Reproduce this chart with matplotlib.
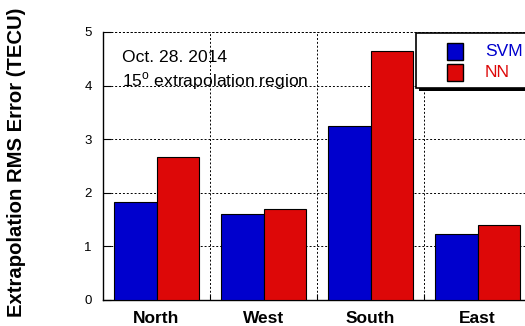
import matplotlib
matplotlib.use("Agg")
import matplotlib.pyplot as plt
from matplotlib.patches import Rectangle
import numpy as np

plt.rcParams['font.family'] = ['Liberation Sans', 'DejaVu Sans']
plt.rcParams['mathtext.fontset'] = 'custom'
plt.rcParams['mathtext.rm'] = 'Liberation Sans'

regions = ["North", "West", "South", "East"]
svm_rms = [1.83, 1.60, 3.25, 1.24]
nn_rms = [2.66, 1.69, 4.65, 1.40]
series_names = ["SVM", "NN"]
y_ticks = [0, 1, 2, 3, 4, 5]

blue = "#0000CD"
red = "#DD0808"

W, H = 525, 326
fig = plt.figure(figsize=(W / 100, H / 100), dpi=100)
ax = fig.add_axes([103 / W, 1 - 300 / H, 428 / W, 268 / H])


def fx(px):
    return px / W


def fy(py):
    return 1 - py / H


x = np.arange(len(regions))
bw = 0.4
ax.bar(x - bw / 2, svm_rms, bw, color=blue, edgecolor="black", linewidth=0.8, zorder=3)
ax.bar(x + bw / 2, nn_rms, bw, color=red, edgecolor="black", linewidth=0.8, zorder=3)

ax.set_xlim(-0.5, len(regions) - 0.5)
ax.set_ylim(0, 5)

# category separators as major ticks, labels on minor ticks
ax.set_xticks(x[:-1] + 0.5)
ax.set_xticklabels([])
ax.set_xticks(x, minor=True)
ax.set_xticklabels(regions, minor=True, fontsize=12.5, fontweight="bold")
ax.tick_params(axis="x", which="minor", length=0, pad=8)
ax.tick_params(axis="x", which="major", direction="in", length=4, width=0.8)

ax.set_yticks(y_ticks)
ax.set_yticklabels([str(t) for t in y_ticks], fontsize=9.5)
ax.tick_params(axis="y", direction="in", length=6, width=0.8, pad=8)
ax.tick_params(right=False, top=False)

ax.grid(True, which="major", color="black", linestyle=(0, (2, 2)), linewidth=0.7, zorder=0)
for s in ("top", "right"):
    ax.spines[s].set_visible(False)
for s in ("left", "bottom"):
    ax.spines[s].set_linewidth(1.0)
ax.axhline(5, color="black", linestyle=(0, (2, 2)), linewidth=0.7, clip_on=False)

ax.text(fx(122), fy(62), "Oct. 28. 2014", transform=fig.transFigure,
        fontsize=12.6, va="baseline")
ax.text(fx(122), fy(86), "15$^{\\mathrm{o}}$ extrapolation region", transform=fig.transFigure,
        fontsize=12.6, va="baseline")

# legend box with a hard black drop shadow
fig.patches.append(Rectangle((fx(419), fy(91)), fx(140), 58 / H, transform=fig.transFigure,
                             facecolor="black", edgecolor="none", zorder=10))
fig.patches.append(Rectangle((fx(416), fy(88)), fx(140), 55 / H, transform=fig.transFigure,
                             facecolor="white", edgecolor="black", linewidth=1.2, zorder=11))
row_centers = [51.3, 72.3]
for name, c, yc in zip(series_names, [blue, red], row_centers):
    fig.patches.append(Rectangle((fx(446.7), fy(yc + 8.3)), fx(16.3), 16.6 / H,
                                 transform=fig.transFigure, facecolor=c,
                                 edgecolor="black", linewidth=1.0, zorder=12))
    fig.text(fx(485), fy(yc), name, color=c, fontsize=12.5, ha="left", va="center",
             zorder=13)

fig.text(17 / W, 1 - 162 / H, "Extrapolation RMS Error (TECU)", rotation=90,
         ha="center", va="center", fontsize=14.6, fontweight="bold")

fig.savefig("out.png", dpi=100)
